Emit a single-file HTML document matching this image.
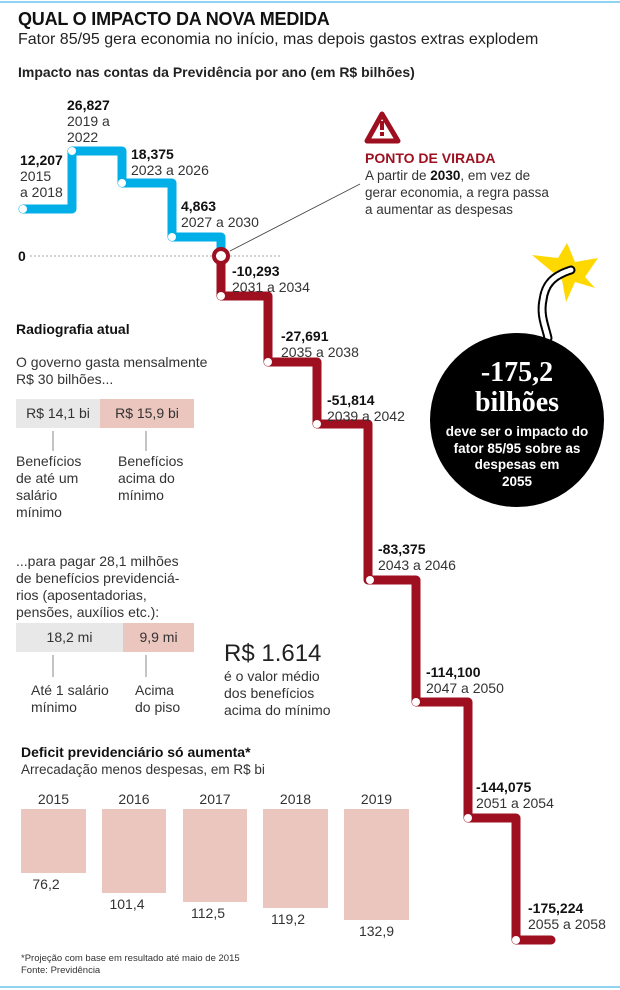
<!DOCTYPE html>
<html><head><meta charset="utf-8"><style>
body{margin:0;width:620px;height:990px;background:#fff;position:relative;overflow:hidden;font-family:"Liberation Sans Narrow","Liberation Sans",sans-serif;color:#333}
.a{position:absolute;white-space:nowrap}
.b{font-weight:bold;color:#111}
.t{font-size:14px;line-height:16px}
</style></head><body>
<div class="a" style="left:0;top:1px;width:620px;height:2px;background:#8fd3f0"></div>
<div class="a" style="left:0;top:986px;width:620px;height:2px;background:#8fd3f0"></div>
<div class="a b" style="left:18px;top:9px;font-size:18px;letter-spacing:-0.2px">QUAL O IMPACTO DA NOVA MEDIDA</div>
<div class="a" style="left:18px;top:31px;font-size:16px;color:#222">Fator 85/95 gera economia no início, mas depois gastos extras explodem</div>
<div class="a" style="left:18px;top:64px;font-size:14px;color:#222;font-weight:600">Impacto nas contas da Previdência por ano (em R$ bilhões)</div>

<svg class="a" style="left:0;top:0" width="620" height="990">
<line x1="30" y1="256" x2="282" y2="256" stroke="#aaa" stroke-width="1" stroke-dasharray="2,2"/>
<line x1="230" y1="251" x2="360" y2="184" stroke="#444" stroke-width="0.8"/>
<path d="M23 209 H72 V151 H122 V183 H172 V237 H221 V256" fill="none" stroke="#00aee8" stroke-width="9" stroke-linejoin="round" stroke-linecap="round"/>
<path d="M221 256 V296 H268 V362 H317 V424 H368 V580 H416 V702 H468 V818 H516 V940 H551" fill="none" stroke="#9e0f1f" stroke-width="9" stroke-linejoin="round" stroke-linecap="round"/>
<g fill="#fff"><circle cx="23" cy="209" r="4"/><circle cx="72" cy="151" r="4"/><circle cx="122" cy="183" r="4"/><circle cx="172" cy="237" r="4"/>
<circle cx="221" cy="296" r="4"/><circle cx="268" cy="362" r="4"/><circle cx="317" cy="424" r="4"/><circle cx="370" cy="580" r="4"/><circle cx="416" cy="702" r="4"/><circle cx="468" cy="818" r="4"/><circle cx="516" cy="940" r="4"/></g>
<circle cx="221" cy="256" r="7" fill="#fff" stroke="#9e0f1f" stroke-width="4"/>
<path d="M382 114 L367 141 H398 Z" fill="none" stroke="#9e0f1f" stroke-width="5" stroke-linejoin="round"/>
<rect x="380" y="121" width="4" height="9" fill="#9e0f1f"/><rect x="380" y="132" width="4" height="4" fill="#9e0f1f"/>
<polygon points="532,255 558,258 567,243 575,262 598,258 585,277 595,288 575,282 566,302 562,280" fill="#ffd800"/>
<path d="M548 338 C545 325 540 315 543 300 C545 285 552 276 571 270" fill="none" stroke="#000" stroke-width="9" stroke-linecap="round"/>
<path d="M548 338 C545 325 540 315 543 300 C545 285 552 276 571 270" fill="none" stroke="#fff" stroke-width="5" stroke-linecap="round" stroke-dasharray="3,1.5"/>
<circle cx="517" cy="420" r="87" fill="#000"/>
<g fill="#e8e8e8"><rect x="16" y="399" width="84" height="29"/><rect x="16" y="623" width="107" height="29"/></g>
<g fill="#ebc6be"><rect x="100" y="399" width="94" height="29"/><rect x="123" y="623" width="71" height="29"/>
<rect x="21" y="809" width="65" height="64"/><rect x="102" y="809" width="64" height="84"/><rect x="183" y="809" width="64" height="93"/><rect x="263" y="809" width="65" height="99"/><rect x="344" y="809" width="65" height="111"/></g>
<g stroke="#888" stroke-width="1"><line x1="53" y1="431" x2="53" y2="451"/><line x1="146" y1="431" x2="146" y2="451"/><line x1="53" y1="655" x2="53" y2="677"/><line x1="146" y1="655" x2="146" y2="677"/></g>
</svg>

<div class="a b" style="left:18px;top:248px;font-size:14px">0</div>
<div class="a t" style="left:20px;top:152px"><span class="b">12,207</span><br>2015<br>a 2018</div>
<div class="a t" style="left:67px;top:97px"><span class="b">26,827</span><br>2019 a<br>2022</div>
<div class="a t" style="left:131px;top:146px"><span class="b">18,375</span><br>2023 a 2026</div>
<div class="a t" style="left:181px;top:198px"><span class="b">4,863</span><br>2027 a 2030</div>
<div class="a t" style="left:232px;top:263px"><span class="b">-10,293</span><br>2031 a 2034</div>
<div class="a t" style="left:281px;top:328px"><span class="b">-27,691</span><br>2035 a 2038</div>
<div class="a t" style="left:327px;top:392px"><span class="b">-51,814</span><br>2039 a 2042</div>
<div class="a t" style="left:378px;top:541px"><span class="b">-83,375</span><br>2043 a 2046</div>
<div class="a t" style="left:426px;top:664px"><span class="b">-114,100</span><br>2047 a 2050</div>
<div class="a t" style="left:476px;top:779px"><span class="b">-144,075</span><br>2051 a 2054</div>
<div class="a t" style="left:528px;top:900px"><span class="b">-175,224</span><br>2055 a 2058</div>

<div class="a b" style="left:365px;top:150px;font-size:14px;color:#9e0f1f">PONTO DE VIRADA</div>
<div class="a" style="left:365px;top:167px;font-size:13.5px;line-height:17px">A partir de <b style="color:#111">2030</b>, em vez de<br>gerar economia, a regra passa<br>a aumentar as despesas</div>

<div class="a" style="left:430px;top:358px;width:174px;text-align:center;color:#fff;font-weight:bold">
<div style="font-size:28px;line-height:30px;font-family:'Liberation Serif',serif">-175,2</div>
<div style="font-size:28px;line-height:30px;font-family:'Liberation Serif',serif">bilhões</div>
<div style="font-size:13.5px;line-height:16.5px;margin-top:6px">deve ser o impacto do<br>fator 85/95 sobre as<br>despesas em<br>2055</div></div>

<div class="a b" style="left:16px;top:321px;font-size:14px">Radiografia atual</div>
<div class="a" style="left:16px;top:354px;font-size:14px;line-height:17px">O governo gasta mensalmente<br>R$ 30 bilhões...</div>
<div class="a" style="left:16px;top:405px;width:84px;text-align:center;font-size:14px">R$ 14,1 bi</div>
<div class="a" style="left:100px;top:405px;width:94px;text-align:center;font-size:14px">R$ 15,9 bi</div>
<div class="a" style="left:16px;top:453px;font-size:14px;line-height:17px">Benefícios<br>de até um<br>salário<br>mínimo</div>
<div class="a" style="left:118px;top:453px;font-size:14px;line-height:17px">Benefícios<br>acima do<br>mínimo</div>
<div class="a" style="left:16px;top:553px;font-size:14px;line-height:17px">...para pagar 28,1 milhões<br>de benefícios previdenciá-<br>rios (aposentadorias,<br>pensões, auxílios etc.):</div>
<div class="a" style="left:16px;top:629px;width:107px;text-align:center;font-size:14px">18,2 mi</div>
<div class="a" style="left:123px;top:629px;width:71px;text-align:center;font-size:14px">9,9 mi</div>
<div class="a" style="left:31px;top:682px;font-size:14px;line-height:17px">Até 1 salário<br>mínimo</div>
<div class="a" style="left:135px;top:682px;font-size:14px;line-height:17px">Acima<br>do piso</div>
<div class="a" style="left:224px;top:640px;font-size:24px;color:#222">R$ 1.614</div>
<div class="a" style="left:224px;top:668px;font-size:14px;line-height:17px">é o valor médio<br>dos benefícios<br>acima do mínimo</div>

<div class="a b" style="left:21px;top:744px;font-size:14px">Deficit previdenciário só aumenta*</div>
<div class="a" style="left:21px;top:762px;font-size:13.5px">Arrecadação menos despesas, em R$ bi</div>
<div class="a" style="left:21px;top:791px;width:65px;text-align:center;font-size:14px">2015</div>
<div class="a" style="left:102px;top:791px;width:64px;text-align:center;font-size:14px">2016</div>
<div class="a" style="left:183px;top:791px;width:64px;text-align:center;font-size:14px">2017</div>
<div class="a" style="left:263px;top:791px;width:65px;text-align:center;font-size:14px">2018</div>
<div class="a" style="left:344px;top:791px;width:65px;text-align:center;font-size:14px">2019</div>
<div class="a" style="left:21px;top:876px;width:50px;text-align:center;font-size:14px">76,2</div>
<div class="a" style="left:102px;top:896px;width:50px;text-align:center;font-size:14px">101,4</div>
<div class="a" style="left:183px;top:905px;width:50px;text-align:center;font-size:14px">112,5</div>
<div class="a" style="left:263px;top:911px;width:50px;text-align:center;font-size:14px">119,2</div>
<div class="a" style="left:344px;top:923px;width:65px;text-align:center;font-size:14px">132,9</div>
<div class="a" style="left:21px;top:953px;font-size:9.5px;line-height:12px">*Projeção com base em resultado até maio de 2015<br>Fonte: Previdência</div>
</body></html>
